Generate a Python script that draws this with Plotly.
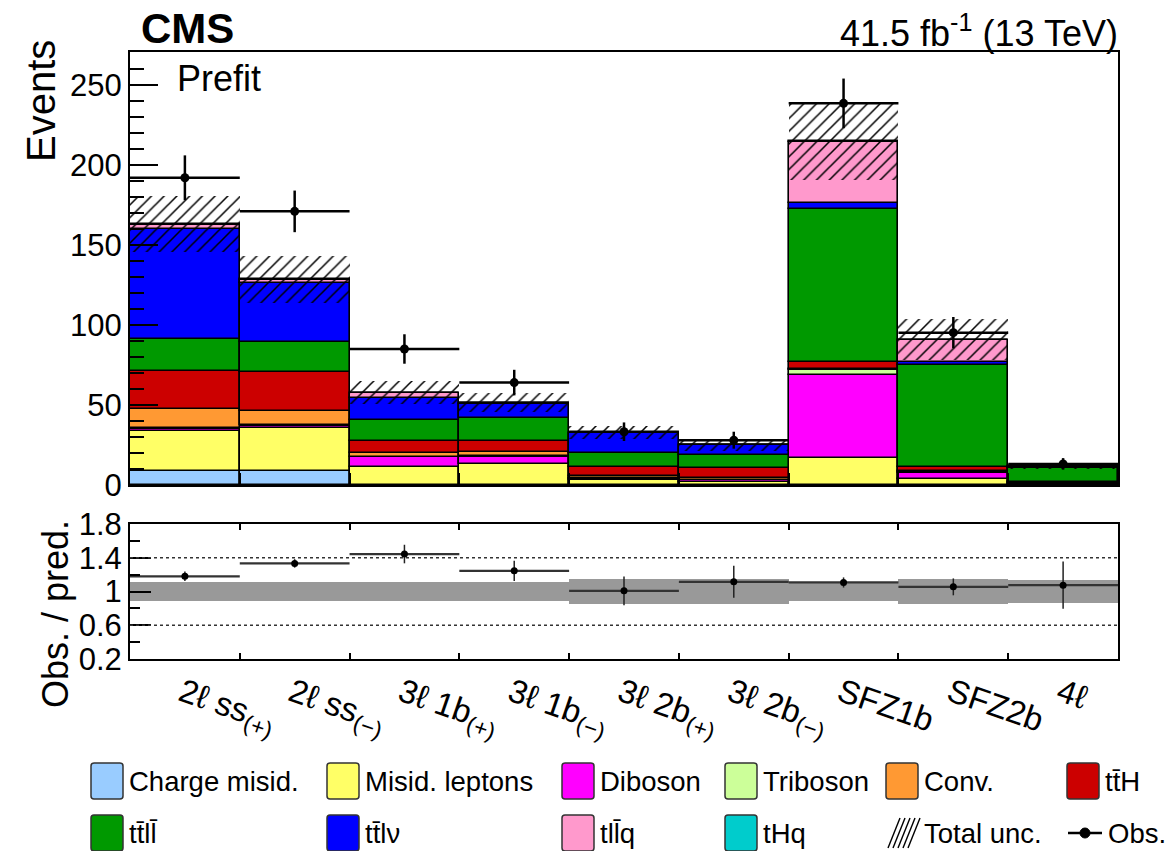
import plotly.graph_objects as go

# ---------------- data ----------------
bin_labels = ["2ℓ ss<sub>(+)</sub>", "2ℓ ss<sub>(−)</sub>", "3ℓ 1b<sub>(+)</sub>",
              "3ℓ 1b<sub>(−)</sub>", "3ℓ 2b<sub>(+)</sub>", "3ℓ 2b<sub>(−)</sub>",
              "SFZ1b", "SFZ2b", "4ℓ"]

charge_misid  = [9.0, 9.0, 0.0, 0.0, 0.0, 0.0, 0.0, 0.0, 0.0]
misid_leptons = [24.8, 26.4, 11.5, 12.9, 3.0, 2.1, 17.1, 3.5, 0.3]
diboson       = [1.5, 1.6, 5.8, 4.8, 1.0, 0.8, 51.6, 4.2, 0.4]
triboson      = [0.3, 0.3, 0.5, 0.5, 0.3, 0.2, 3.2, 0.5, 0.3]
conv          = [11.7, 9.0, 2.0, 2.4, 1.3, 1.5, 0.5, 0.8, 0.3]
tth           = [24.2, 24.1, 7.9, 7.1, 5.4, 5.8, 4.2, 2.5, 0.6]
ttll          = [19.5, 19.2, 12.9, 14.0, 8.8, 8.35, 95.9, 63.5, 8.7]
ttlnu         = [69.0, 36.4, 14.0, 8.9, 12.5, 6.0, 3.5, 1.7, 0.5]
tllq          = [2.5, 2.0, 2.8, 0.7, 0.3, 0.2, 38.4, 13.7, 0.6]
thq           = [0.5, 0.5, 0.3, 0.2, 0.1, 0.1, 0.4, 0.3, 0.0]

total_unc = [17.5, 14.5, 7.3, 6.0, 4.0, 3.7, 24.0, 12.8, 1.6]
obs       = [192.0, 171.0, 85.0, 64.0, 33.3, 28.0, 238.5, 95.2, 13.2]
obs_err   = [14.0, 13.0, 9.2, 8.0, 5.8, 5.3, 15.5, 9.8, 3.6]

ratio      = [1.18, 1.333, 1.444, 1.245, 1.008, 1.115, 1.107, 1.055, 1.075]
ratio_err  = [0.057, 0.05, 0.11, 0.12, 0.17, 0.19, 0.06, 0.10, 0.28]
ratio_band = [0.113, 0.113, 0.113, 0.113, 0.145, 0.145, 0.113, 0.145, 0.14]
ratio_ref_lines = [0.6, 1.4]

process_names = ["Charge misid.", "Misid. leptons", "Diboson", "Triboson", "Conv.",
                 "tt\u0304H", "tt\u0304ll\u0304", "tt\u0304lν", "tll\u0304q", "tHq"]
process_values = [charge_misid, misid_leptons, diboson, triboson, conv,
                  tth, ttll, ttlnu, tllq, thq]
process_colors = ["#99CCFF", "#FFFF66", "#FF00FF", "#CCFF99", "#FF9933",
                  "#CC0000", "#009900", "#0000FF", "#FF99CC", "#00CCCC"]

# ---------------- figure geometry ----------------
W, H = 1170, 851
L, R, T, B = 130, 52, 52, 192
PW, PH = W - L - R, H - T - B


def fx(p):
    return (p - L) / PW


def fy(p):
    return (H - B - p) / PH


FONT = "Liberation Sans, Arial, Helvetica, sans-serif"
nb = len(bin_labels)
centers = [i + 0.5 for i in range(nb)]

fig = go.Figure()

# stacked backgrounds
cum = [0.0] * nb
for name, vals, col in zip(process_names, process_values, process_colors):
    fig.add_trace(go.Bar(
        x=centers, y=vals, base=cum[:], width=1.0, name=name,
        marker=dict(color=col, line=dict(color="black", width=1.6)),
        showlegend=False, xaxis="x", yaxis="y"))
    cum = [c + v for c, v in zip(cum, vals)]
total = cum

# total uncertainty hatch
fig.add_trace(go.Bar(
    x=centers, y=[2 * u for u in total_unc],
    base=[t - u for t, u in zip(total, total_unc)], width=1.0,
    marker=dict(color="rgba(0,0,0,0)", line=dict(width=0),
                pattern=dict(shape="/", fgcolor="black", bgcolor="rgba(0,0,0,0)",
                             size=9, solidity=0.17, fillmode="replace")),
    showlegend=False, xaxis="x", yaxis="y"))

# observed data
fig.add_trace(go.Scatter(
    x=centers, y=obs, mode="markers",
    marker=dict(color="black", size=9),
    error_y=dict(type="data", array=obs_err, color="black", thickness=2.5, width=0),
    error_x=dict(type="data", array=[0.5] * nb, color="black", thickness=2.5, width=0),
    showlegend=False, xaxis="x", yaxis="y"))

# ratio band
fig.add_trace(go.Bar(
    x=centers, y=[2 * b for b in ratio_band], base=[1 - b for b in ratio_band],
    width=1.0, marker=dict(color="rgb(153,153,153)", line=dict(width=0)),
    showlegend=False, xaxis="x2", yaxis="y2"))

# ratio points
fig.add_trace(go.Scatter(
    x=centers, y=ratio, mode="markers",
    marker=dict(color="black", size=7),
    error_y=dict(type="data", array=ratio_err, color="#222", thickness=1.5, width=0),
    error_x=dict(type="data", array=[0.5] * nb, color="#333", thickness=2.2, width=0),
    showlegend=False, xaxis="x2", yaxis="y2"))

shapes = []
for yv in ratio_ref_lines:
    shapes.append(dict(type="line", xref="x2 domain", yref="y2", x0=0, x1=1, y0=yv, y1=yv,
                       line=dict(color="#333", width=1.5, dash="dot"), layer="above"))

annotations = []
# titles
annotations.append(dict(text="<b>CMS</b>", x=fx(139), y=fy(29), xref="paper", yref="paper",
                        xanchor="left", yanchor="middle", showarrow=False,
                        font=dict(family=FONT, size=42, color="black")))
annotations.append(dict(text="41.5 fb<sup>-1</sup> (13 TeV)", x=fx(1120), y=fy(31), xref="paper",
                        yref="paper", xanchor="right", yanchor="middle", showarrow=False,
                        font=dict(family=FONT, size=36, color="black")))
annotations.append(dict(text="Prefit", x=fx(175), y=fy(78), xref="paper", yref="paper",
                        xanchor="left", yanchor="middle", showarrow=False,
                        font=dict(family=FONT, size=36, color="black")))
annotations.append(dict(text="Events", x=fx(41), y=fy(101), xref="paper", yref="paper",
                        xanchor="center", yanchor="middle", textangle=-90, showarrow=False,
                        font=dict(family=FONT, size=40, color="black")))
annotations.append(dict(text="Obs. / pred.", x=fx(55), y=fy(614), xref="paper", yref="paper",
                        xanchor="center", yanchor="middle", textangle=-90, showarrow=False,
                        font=dict(family=FONT, size=36, color="black")))

# manual legend
cols_x = [91, 327, 562, 725, 886, 1067]
row_y = [781, 833]
BW, BH = 32, 36
LFS = 27.5


def rounded_box(x0, y0, x1, y1, r=3):
    X0, X1 = fx(x0), fx(x1)
    Y0, Y1 = fy(y1), fy(y0)
    rx, ry = r / PW, r / PH
    return (f"M {X0+rx},{Y0} L {X1-rx},{Y0} Q {X1},{Y0} {X1},{Y0+ry} "
            f"L {X1},{Y1-ry} Q {X1},{Y1} {X1-rx},{Y1} L {X0+rx},{Y1} "
            f"Q {X0},{Y1} {X0},{Y1-ry} L {X0},{Y0+ry} Q {X0},{Y0} {X0+rx},{Y0} Z")


legend_entries = list(zip(process_names, process_colors))
slots = [(0, c) for c in range(6)] + [(1, c) for c in range(4)]
for (name, col), (r, c) in zip(legend_entries, slots):
    x0 = cols_x[c]
    yc = row_y[r]
    shapes.append(dict(type="path", xref="paper", yref="paper",
                       path=rounded_box(x0, yc - BH / 2, x0 + BW, yc + BH / 2),
                       fillcolor=col, line=dict(color="#333", width=1.5)))
    annotations.append(dict(text=name, x=fx(x0 + BW + 4), y=fy(yc), xref="paper", yref="paper",
                            xanchor="left", yanchor="middle", showarrow=False,
                            font=dict(family=FONT, size=LFS, color="black")))

# hatch legend
hx0 = cols_x[4]
yc = row_y[1]
for k in range(5):
    xa = hx0 + 2 + k * 5
    shapes.append(dict(type="line", xref="paper", yref="paper",
                       x0=fx(xa), y0=fy(yc + BH / 2 - 3), x1=fx(xa + 12), y1=fy(yc - BH / 2 + 3),
                       line=dict(color="black", width=1.4)))
annotations.append(dict(text="Total unc.", x=fx(hx0 + BW + 4), y=fy(yc), xref="paper",
                        yref="paper", xanchor="left", yanchor="middle", showarrow=False,
                        font=dict(family=FONT, size=LFS, color="black")))
# obs legend
ox0 = 1068
shapes.append(dict(type="line", xref="paper", yref="paper", x0=fx(ox0), x1=fx(ox0 + 34),
                   y0=fy(yc), y1=fy(yc), line=dict(color="black", width=2.5)))
shapes.append(dict(type="circle", xref="paper", yref="paper", x0=fx(ox0 + 12), x1=fx(ox0 + 22),
                   y0=fy(yc + 5), y1=fy(yc - 5), fillcolor="black", line=dict(color="black", width=1)))
annotations.append(dict(text="Obs.", x=fx(ox0 + 38), y=fy(yc), xref="paper", yref="paper",
                        xanchor="left", yanchor="middle", showarrow=False,
                        font=dict(family=FONT, size=LFS, color="black")))

top_dom = [fy(485), 1.0]
bot_dom = [0.0, fy(524)]

fig.update_layout(
    width=W, height=H,
    margin=dict(l=L, r=R, t=T, b=B, autoexpand=False),
    paper_bgcolor="white", plot_bgcolor="white",
    barmode="overlay", bargap=0,
    font=dict(family=FONT, color="black"),
    shapes=shapes, annotations=annotations,
    xaxis=dict(domain=[0, 1], range=[0, nb], anchor="y",
               tickvals=list(range(1, nb)),
               ticks="inside", ticklen=12, tickwidth=1.5, tickcolor="black",
               showline=True, linecolor="black", linewidth=2, mirror=True,
               showgrid=False, zeroline=False, showticklabels=False),
    yaxis=dict(domain=top_dom, range=[0, 270.6], anchor="x",
               tickvals=[0, 50, 100, 150, 200, 250],
               ticks="inside", ticklen=28, tickwidth=1.5, tickcolor="black",
               minor=dict(dtick=10, ticks="inside", ticklen=14, tickwidth=1.5, tickcolor="black"),
               showline=True, linecolor="black", linewidth=2, mirror=True,
               showgrid=False, zeroline=False,
               tickfont=dict(family=FONT, size=31, color="black")),
    xaxis2=dict(domain=[0, 1], range=[0, nb], anchor="y2",
                tickvals=list(range(nb)), ticktext=bin_labels,
                tickangle=19, ticklabelshift=int(PW / nb / 2) - 2, ticklabelstandoff=0,
                ticks="inside", ticklen=6, tickwidth=1.5, tickcolor="black",
                showline=True, linecolor="black", linewidth=2, mirror="ticks",
                showgrid=False, zeroline=False,
                tickfont=dict(family=FONT, size=33, color="black")),
    yaxis2=dict(domain=bot_dom, range=[0.2, 1.8], anchor="x2",
                tickvals=[0.2, 0.6, 1.0, 1.4, 1.8], ticktext=["0.2", "0.6", "1", "1.4", "1.8"],
                ticks="inside", ticklen=21, tickwidth=1.5, tickcolor="black",
                minor=dict(tickvals=[0.4, 0.8, 1.2, 1.6], ticks="inside", ticklen=10,
                           tickwidth=1.5, tickcolor="black"),
                showline=True, linecolor="black", linewidth=2, mirror=True,
                showgrid=False, zeroline=False,
                tickfont=dict(family=FONT, size=31, color="black")),
)

fig.write_html("out.html")
